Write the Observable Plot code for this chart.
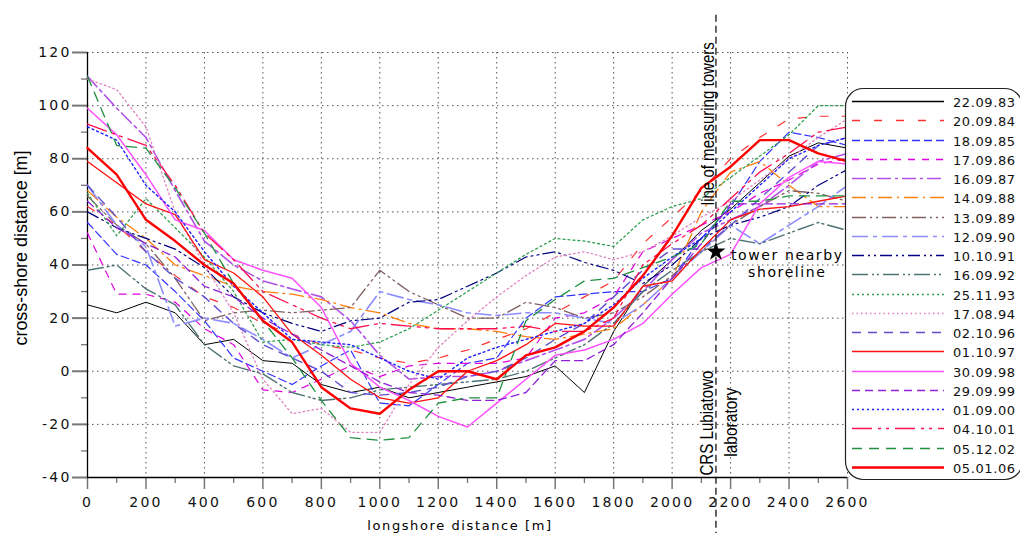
<!DOCTYPE html>
<html><head><meta charset="utf-8">
<script src="https://cdn.jsdelivr.net/npm/d3@7"></script>
<script src="https://cdn.jsdelivr.net/npm/@observablehq/plot@0.6"></script>
<style>
html,body{margin:0;padding:0;background:#fff;}
#chart{width:1020px;height:533px;overflow:hidden;}
</style></head>
<body><div id="chart"></div>
<script>
const longshore = [0,100,200,300,400,500,600,700,800,900,1000,1100,1200,1300,1400,1500,1600,1700,1800,1900,2000,2100,2200,2300,2400,2500,2600];

const s220983 = [25,22,26,22,10,12,4,3,-5,-8,-6,-10,-8,-6,-4,-2,2,-8,15,32,42,53,61,71,81,86,84];
const s200984 = [62,55,45,36,28,24,18,14,10,8,5,3,5,8,12,16,22,28,34,48,58,68,80,88,95,96,96];
const s180985 = [56,44,40,30,19,5,0,-5,2,8,-12,-13,-5,3,5,20,28,29,30,30,35,50,62,79,90,88,85];
const s170986 = [52,29,29,26,16,10,-7,-8,-3,2,-2,2,3,3,3,5,20,22,28,45,50,55,60,67,72,78,80];
const s160987 = [111,99,88,68,49,40,34,31,28,19,6,-3,-2,-2,0,4,8,12,20,30,42,52,57,62,70,79,82];
const s140988 = [68,58,50,40,36,32,30,29,27,24,22,18,16,16,15,13,12,14,16,25,35,60,75,79,70,62,62];
const s130989 = [66,55,48,35,19,22,23,22,23,24,38,30,25,20,20,26,24,20,22,28,36,45,55,62,68,67,64];
const s120990 = [70,55,47,17,20,18,12,5,10,15,30,27,25,22,21,22,22,20,18,25,35,45,55,48,55,62,70];
const s101091 = [60,54,50,46,39,28,22,18,15,19,20,26,27,32,37,43,45,41,38,33,40,50,55,58,62,70,76];
const s160992 = [38,40,31,25,10,2,-1,-8,-11,-10,-7,-6,-5,-4,-3,0,5,10,18,30,38,45,50,48,52,56,53];
const s251193 = [67,51,65,54,43,30,11,12,10,9,11,16,23,30,37,44,50,49,47,57,62,65,73,81,89,100,100];
const s170894 = [110,106,92,60,40,22,-3,-16,-14,-23,-23,-5,9,19,28,36,43,45,42,45,51,58,64,72,80,88,95];
const s021096 = [70,58,45,35,28,18,10,5,0,-8,-9,-8,-6,-2,0,5,12,18,28,38,46,46,55,65,75,85,88];
const s011097 = [79,71,63,59,42,37,28,14,6,-3,-10,-12,-10,0,4,10,18,17,17,32,34,46,57,61,62,64,66];
const s300998 = [99,89,74,57,53,42,38,35,24,3,-6,-11,-17,-21,-12,-3,6,8,12,18,29,39,44,63,73,79,78];
const s290999 = [64,54,48,43,32,28,20,14,8,2,-4,-8,-9,-11,-11,-8,4,4,10,22,35,48,63,63,63,63,63];
const s010900 = [92,87,70,60,45,32,22,12,11,10,5,0,-3,5,9,12,15,18,25,35,43,50,60,70,80,85,88];
const s041001 = [93,89,85,70,52,42,30,25,20,16,18,17,16,16,16,17,15,15,20,40,48,55,65,75,82,90,92];
const s051202 = [111,85,84,69,52,33,19,5,-11,-25,-26,-25,-12,-10,-10,19,27,34,35,39,43,48,64,64,66,66,66];
const s050106 = [84,74,57,49,40,33,19,11,-6,-14,-16,-7,0,0,-3,6,9,15,24,36,51,69,77,87,87,82,79];

const dates = ["22.09.83","20.09.84","18.09.85","17.09.86","16.09.87","14.09.88","13.09.89","12.09.90","10.10.91","16.09.92","25.11.93","17.08.94","02.10.96","01.10.97","30.09.98","29.09.99","01.09.00","04.10.01","05.12.02","05.01.06"];
const values = [s220983,s200984,s180985,s170986,s160987,s140988,s130989,s120990,s101091,s160992,s251193,s170894,s021096,s011097,s300998,s290999,s010900,s041001,s051202,s050106];

const yTicks = [-40,-20,0,20,40,60,80,100,120];
const xTicks = [0,200,400,600,800,1000,1200,1400,1600,1800,2000,2200,2400,2600];
const yMinor = [-30,-10,10,30,50,70,90,110];
const xMinor = [100,300,500,700,900,1100,1300,1500,1700,1900,2100,2300,2500];

const towerX = 2150;
const star = [{x: 2150, y: 45}];

const styles = [
  {c:"#000000", w:1,   d:null},
  {c:"#ff3030", w:1.2, d:"8,14"},
  {c:"#3333ff", w:1.2, d:"8,4"},
  {c:"#e000e0", w:1.2, d:"7,7"},
  {c:"#b050e8", w:1.6, d:"14,4,3,4"},
  {c:"#ff7f10", w:1.3, d:"14,5,2,5"},
  {c:"#806060", w:1.3, d:"14,4,2,4,2,4"},
  {c:"#8c8cff", w:1.6, d:"16,5,4,5"},
  {c:"#000080", w:1.2, d:"12,4,2,4,2,4"},
  {c:"#4f7373", w:1.4, d:"16,4,2,3,2,4"},
  {c:"#30a050", w:1.3, d:"2,3"},
  {c:"#e080c0", w:1.3, d:"1.5,3"},
  {c:"#6050d0", w:1.4, d:"9,7"},
  {c:"#ff1010", w:1.3, d:null},
  {c:"#ff50ff", w:1.5, d:null},
  {c:"#9020d8", w:1.3, d:"8,5"},
  {c:"#2020ff", w:1.4, d:"2,3"},
  {c:"#ff1050", w:1.3, d:"20,6,3,5,3,6"},
  {c:"#209040", w:1.3, d:"10,7"},
  {c:"#ff0000", w:2.4, d:null}
];

const tables = values.map((v,i) => longshore.map((x,j) => ({x, y: v[j], date: dates[i]})));
const lineMarks = tables.map((t,i) => Plot.line(t, {x:"x", y:"y", stroke: styles[i].c, strokeWidth: styles[i].w, strokeDasharray: styles[i].d || undefined}));

const narrowFont = "Liberation Sans Narrow, Arial Narrow, Liberation Sans, sans-serif";

const plot = Plot.plot({
  width: 1020, height: 533,
  marginLeft: 87, marginRight: 173, marginTop: 52, marginBottom: 56,
  x: {domain:[0,2600]},
  y: {domain:[-40,120]},
  style: {fontFamily:"DejaVu Sans", fontSize:"14px", background:"#fff", overflow:"visible"},
  marks: [
    Plot.gridX(xTicks, {stroke:"#555", strokeOpacity:1, strokeDasharray:"1.5,3.5"}),
    Plot.gridY(yTicks, {stroke:"#555", strokeOpacity:1, strokeDasharray:"1.5,3.5"}),
    Plot.axisY(yTicks, {tickSize:15, tickPadding:1, stroke:"#777", strokeWidth:2, tickFormat: d=>String(d), label:null, fill:"#111", fontSize:14}),
    Plot.axisY(yMinor, {tickSize:6, stroke:"#777", strokeWidth:1.3, tickFormat:()=>"", label:null}),
    Plot.axisX(xTicks, {tickSize:12, tickPadding:8, stroke:"#777", strokeWidth:1.5, tickFormat: d=>String(d), label:null, fill:"#111", fontSize:14}),
    Plot.axisX(xMinor, {tickSize:6, stroke:"#777", strokeWidth:1.3, tickFormat:()=>"", label:null}),
    Plot.ruleX([0], {stroke:"#000", strokeWidth:1.3}),
    Plot.ruleY([-40], {stroke:"#000", strokeWidth:1.3}),
    ...lineMarks,
    Plot.ruleX([towerX], {y1:134, y2:-62, stroke:"#000", strokeWidth:1.2, strokeDasharray:"7,4"}),
    Plot.dot(star, {x:"x", y:"y", symbol:"star", fill:"#000", r:6}),
    Plot.text(["line of measuring towers"], {x:towerX, y:93.2, rotate:-90, dx:-8, textAnchor:"middle", fontFamily:narrowFont, fontSize:19, fill:"#000", className:"narrow n1"}),
    Plot.text(["CRS Lubiatowo"], {x:towerX, y:-19.5, rotate:-90, dx:-9, textAnchor:"middle", fontFamily:narrowFont, fontSize:19, fill:"#000", className:"narrow n2"}),
    Plot.text(["laboratory"], {x:towerX, y:-19.2, rotate:-90, dx:15, textAnchor:"middle", fontFamily:narrowFont, fontSize:19, fill:"#000", className:"narrow n3"}),
    Plot.text(["tower nearby"], {x:2394, y:43.5, textAnchor:"middle", fontSize:14, fill:"#000", className:"spaced"}),
    Plot.text(["shoreline"], {x:2394, y:37, textAnchor:"middle", fontSize:14, fill:"#000", className:"spaced"})
  ]
});

const svg = d3.select(plot);
svg.selectAll("text").filter(function(){ return !this.closest(".narrow"); }).style("letter-spacing","2.2px");
svg.selectAll(".spaced text").style("letter-spacing","1.6px");
svg.selectAll(".narrow text").style("letter-spacing","0px").attr("lengthAdjust","spacingAndGlyphs");
svg.selectAll(".n1 text").attr("textLength",163);
svg.selectAll(".n2 text").attr("textLength",105);
svg.selectAll(".n3 text").attr("textLength",69);

// axis titles
svg.append("text").attr("x", 460).attr("y", 530).attr("text-anchor","middle")
  .style("font-family","DejaVu Sans").style("font-size","13px").style("letter-spacing","1.6px").text("longshore distance [m]");
svg.append("text").attr("transform","translate(27,248) rotate(-90)").attr("text-anchor","middle")
  .attr("textLength",195).attr("lengthAdjust","spacingAndGlyphs")
  .style("font-family",narrowFont).style("font-size","19px").text("cross-shore distance [m]");

// legend
const lg = svg.append("g");
lg.append("rect").attr("x",845.5).attr("y",88.5).attr("width",177).attr("height",391).attr("rx",18).attr("ry",18)
  .attr("fill","#fff").attr("stroke","#222").attr("stroke-width",1.2);
dates.forEach((dt,i) => {
  const yy = Math.round(101 + i*19.25) + 0.5;
  lg.append("line").attr("x1",852).attr("x2",944).attr("y1",yy).attr("y2",yy)
    .style("stroke",styles[i].c).style("stroke-width",Math.max(1.5, styles[i].w)).style("stroke-dasharray",styles[i].d || "none");
  lg.append("text").attr("x",953).attr("y",Math.round(yy+5)).attr("text-anchor","start")
    .style("font-family","DejaVu Sans").style("font-size","13px").style("letter-spacing","0.6px").attr("fill","#111").text(dt);
});

document.getElementById("chart").appendChild(plot);
</script>
</body></html>
